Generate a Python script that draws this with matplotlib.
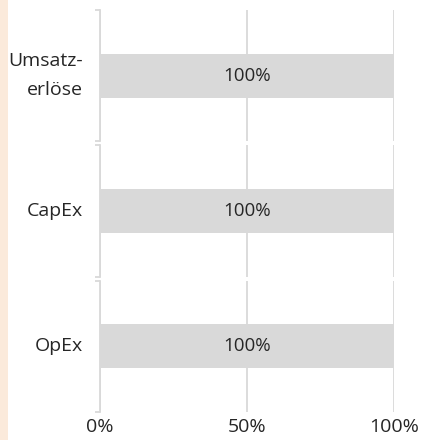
import matplotlib.pyplot as plt
from matplotlib.patches import Rectangle

plt.rcParams['font.family'] = ['Open Sans', 'DejaVu Sans']

categories = ["Umsatz-\nerlöse", "CapEx", "OpEx"]
values = [100, 100, 100]
x_ticks = [0, 50, 100]
x_tick_labels = ["0%", "50%", "100%"]

grey = '#d9d9d9'
text_col = '#262626'

fig, axes = plt.subplots(3, 1, figsize=(4.21, 4.40), dpi=100, sharex=True)
fig.subplots_adjust(left=0.2375, right=0.936, top=0.977, bottom=0.0636, hspace=0.03)

# beige strip on the left edge
fig.patches.append(Rectangle((0, 0), 8 / 421, 1, transform=fig.transFigure,
                             facecolor='#fbeadb', edgecolor='none'))

for ax, cat, val in zip(axes, categories, values):
    ax.barh(0, val, height=1.0, color=grey, zorder=2)
    ax.text(val / 2, 0, f"{val}%", ha='center', va='center',
            fontsize=13.5, color=text_col, zorder=3)
    ax.set_xlim(0, 100)
    ax.set_ylim(-1.5, 1.5)
    for spine in ['top', 'right', 'bottom']:
        ax.spines[spine].set_visible(False)
    ax.spines['left'].set_color(grey)
    ax.spines['left'].set_linewidth(1.3)
    ax.set_xticks(x_ticks)
    ax.xaxis.grid(True, color=grey, linewidth=1.3, zorder=0)
    ax.set_axisbelow(True)
    ax.tick_params(axis='x', length=0)
    # short ticks at panel edges
    ax.set_yticks([-1.5, 1.5])
    ax.set_yticklabels([])
    ax.tick_params(axis='y', length=3.5, width=1.3, color=grey)
    ax.text(-17 / 294 * 100, 0, cat, ha='right', va='center', fontsize=14,
            color=text_col, linespacing=1.8, multialignment='right',
            transform=ax.transData, clip_on=False)

for ax in axes[:-1]:
    ax.tick_params(axis='x', labelbottom=False)
axes[-1].set_xticklabels(x_tick_labels, fontsize=14, color=text_col)
axes[-1].tick_params(axis='x', pad=4)

fig.savefig('out.png', dpi=100)
